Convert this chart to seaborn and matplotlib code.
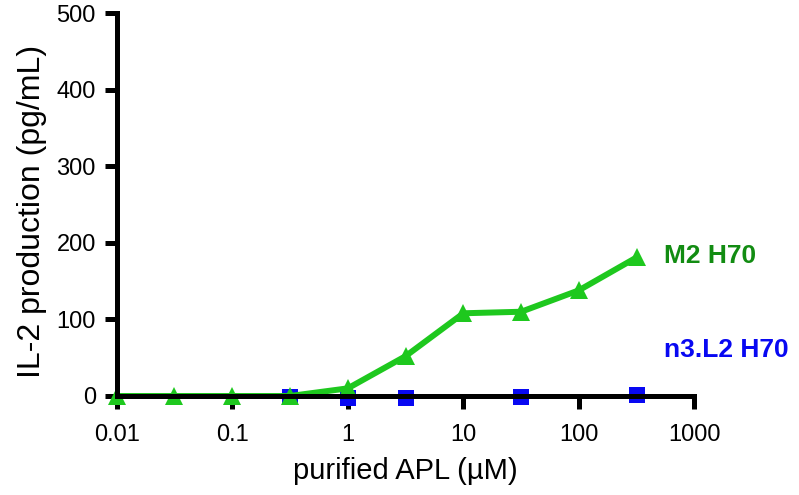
import matplotlib
matplotlib.use("Agg")
import matplotlib.pyplot as plt
import seaborn as sns
import pandas as pd

# Data
conc_m2 = [0.01, 0.0316, 0.1, 0.316, 1, 3.16, 10, 31.6, 100, 316]
il2_m2 = [0, 0, 0, 0, 10, 52, 108, 110, 138, 181]
conc_n3 = [0.316, 1, 3.16, 31.6, 316]
il2_n3 = [-1, -2, -2, -1, 1]
xticks = [0.01, 0.1, 1, 10, 100, 1000]
xtick_labels = ["0.01", "0.1", "1", "10", "100", "1000"]
yticks = [0, 100, 200, 300, 400, 500]

sns.set_style("ticks", {"axes.edgecolor": "black", "xtick.color": "black",
                        "ytick.color": "black", "text.color": "black",
                        "axes.labelcolor": "black"})
plt.rcParams['font.family'] = ['Liberation Sans', 'DejaVu Sans']

W, H = 799, 495
fig = plt.figure(figsize=(W / 100, H / 100), dpi=100)
x0, x1, y0, y1 = 116.7, 694.5, 396, 13
ax = fig.add_axes([x0 / W, 1 - y0 / H, (x1 - x0) / W, (y0 - y1) / H])

df_m2 = pd.DataFrame({"conc": conc_m2, "il2": il2_m2})
df_n3 = pd.DataFrame({"conc": conc_n3, "il2": il2_n3})

green = "#1ec81e"
blue = "#0808f2"

sns.lineplot(data=df_n3, x="conc", y="il2", ax=ax, color=blue, lw=1.6,
             marker="s", markersize=11.5, markeredgewidth=0, clip_on=False, zorder=1.5)
sns.lineplot(data=df_m2, x="conc", y="il2", ax=ax, color=green, lw=4.3,
             marker="^", markersize=13, markeredgewidth=0, clip_on=False, zorder=1.6)

ax.set_xscale("log")
ax.set_xlim(0.01, 1000)
ax.set_ylim(0, 500)
ax.set_xticks(xticks)
ax.set_xticklabels(xtick_labels)
ax.minorticks_off()
ax.set_yticks(yticks)

for s in ["top", "right"]:
    ax.spines[s].set_visible(False)
for s in ["left", "bottom"]:
    ax.spines[s].set_linewidth(3.6)
    ax.spines[s].set_zorder(3)
ax.tick_params(axis="both", width=3.6, length=9, labelsize=17, color="black",
               labelcolor="black")
ax.tick_params(axis="x", pad=11)
ax.tick_params(axis="y", pad=6)
ax.set_xlabel("")
ax.set_ylabel("")

fig.text(405.6 / W, 1 - 479 / H, "purified APL (µM)", fontsize=21,
         ha="center", va="baseline", color="black")
fig.text(40 / W, 1 - 211.5 / H, "IL-2 production (pg/mL)", fontsize=23,
         rotation=90, rotation_mode="anchor", ha="center", va="baseline",
         color="black")

fig.text(664 / W, 1 - 256 / H, "M2 H70", color="#128c12", fontsize=19,
         fontweight="bold", va="center", ha="left")
fig.text(664 / W, 1 - 350 / H, "n3.L2 H70", color=blue, fontsize=19,
         fontweight="bold", va="center", ha="left")

fig.savefig("out.png", dpi=100)
